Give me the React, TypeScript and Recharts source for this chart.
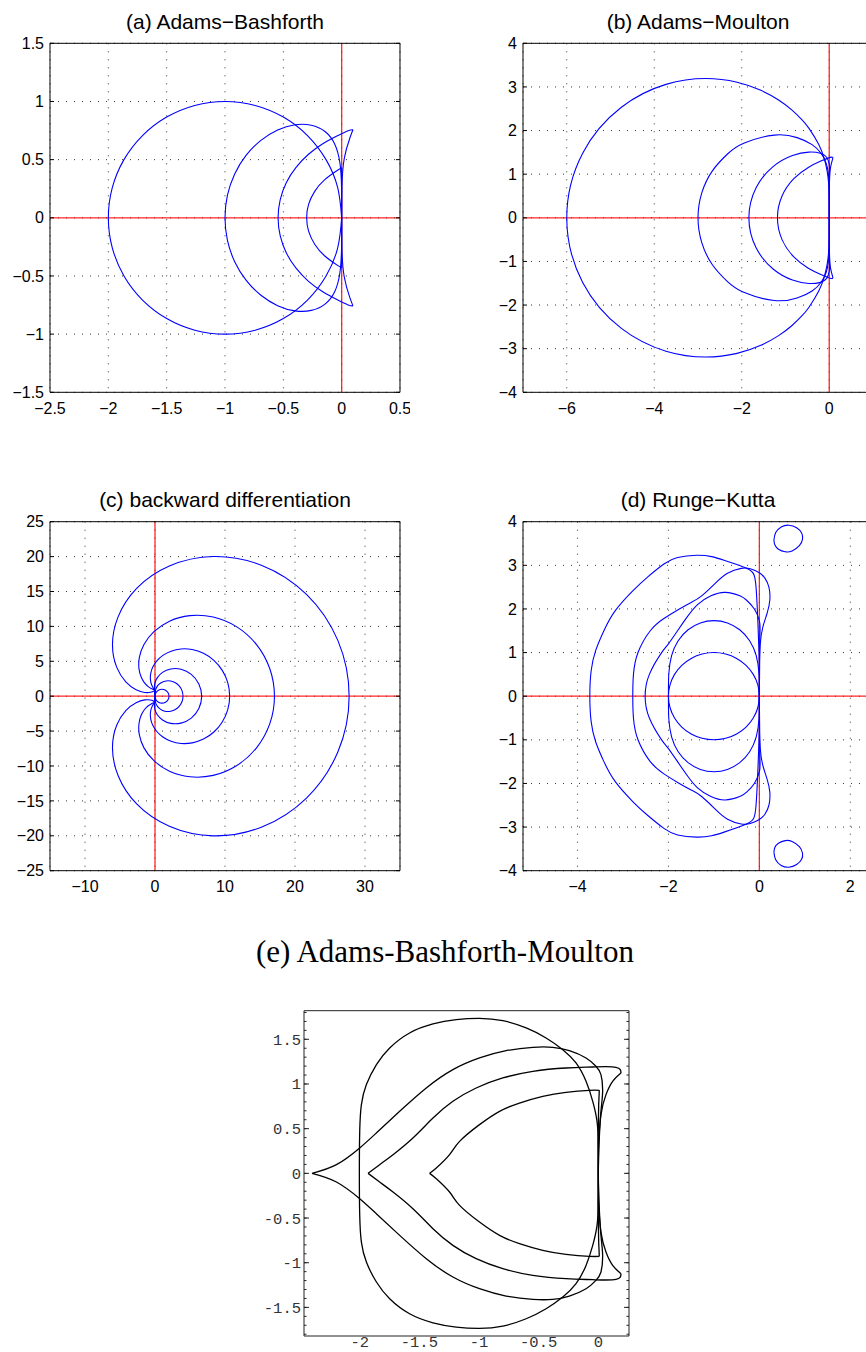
import { LineChart, Line, XAxis, YAxis, CartesianGrid, ReferenceLine } from 'recharts'

type Pt = [number, number]
type CurveKind = 'natural' | 'linear'

interface Curve {
  points: Pt[]
  kind?: CurveKind
}

// ---------- (a) Adams-Bashforth ----------
const abXTicks = [-2.5, -2, -1.5, -1, -0.5, 0, 0.5]
const abYTicks = [-1.5, -1, -0.5, 0, 0.5, 1, 1.5]

const abOrder1: Pt[] = [
  [0, 0], [-0.034, 0.259], [-0.134, 0.5], [-0.293, 0.707], [-0.5, 0.866], [-0.741, 0.966], [-1, 1],
  [-1.259, 0.966], [-1.5, 0.866], [-1.707, 0.707], [-1.866, 0.5], [-1.966, 0.259], [-2, 0],
  [-1.966, -0.259], [-1.866, -0.5], [-1.707, -0.707], [-1.5, -0.866], [-1.259, -0.966], [-1, -1],
  [-0.741, -0.966], [-0.5, -0.866], [-0.293, -0.707], [-0.134, -0.5], [-0.034, -0.259], [0, 0],
]
const abOrder2: Pt[] = [
  [0, 0], [-0.001, 0.255], [-0.015, 0.472], [-0.06, 0.635], [-0.143, 0.742], [-0.26, 0.796], [-0.4, 0.8],
  [-0.549, 0.755], [-0.692, 0.666], [-0.818, 0.538], [-0.917, 0.377], [-0.979, 0.194], [-1, 0],
  [-0.979, -0.194], [-0.917, -0.377], [-0.818, -0.538], [-0.692, -0.666], [-0.549, -0.755], [-0.4, -0.8],
  [-0.26, -0.796], [-0.143, -0.742], [-0.06, -0.635], [-0.015, -0.472], [-0.001, -0.255], [0, 0],
]
const abOrder3Outer: Pt[] = [
  [0.097, 0.757], [0.055, 0.749], [-0.041, 0.703], [-0.162, 0.636], [-0.284, 0.546], [-0.391, 0.433],
  [-0.475, 0.301], [-0.527, 0.154], [-0.545, 0], [-0.527, -0.154], [-0.475, -0.301], [-0.391, -0.433],
  [-0.284, -0.546], [-0.162, -0.636], [-0.041, -0.703], [0.055, -0.749], [0.097, -0.757],
]
const abOrder3Inner: Pt[] = [
  [0.097, 0.757], [0.071, 0.688], [0.022, 0.508], [0.002, 0.261], [0, 0],
  [0.002, -0.261], [0.022, -0.508], [0.071, -0.688], [0.097, -0.757],
]
const abOrder4Arc: Pt[] = [
  [0, 0.43], [-0.032, 0.411], [-0.147, 0.326], [-0.231, 0.227], [-0.283, 0.117], [-0.3, 0],
  [-0.283, -0.117], [-0.231, -0.227], [-0.147, -0.326], [-0.032, -0.411], [0, -0.43],
]
const abOrder4Axis: Pt[] = [[0, 0.43], [0, -0.43]]

// ---------- (b) Adams-Moulton ----------
const amXTicks = [-6, -4, -2, 0]
const amYTicks = [-4, -3, -2, -1, 0, 1, 2, 3, 4]

const amOrder3: Pt[] = [
  [0, 0], [0, 0.262], [-0.003, 0.524], [-0.015, 0.79], [-0.047, 1.064], [-0.114, 1.356], [-0.24, 1.68],
  [-0.463, 2.05], [-0.632, 2.256], [-0.857, 2.474], [-1.158, 2.701], [-1.563, 2.923], [-2.107, 3.108],
  [-2.826, 3.192], [-3.732, 3.058], [-4.751, 2.535], [-5.636, 1.482], [-6, 0],
  [-5.636, -1.482], [-4.751, -2.535], [-3.732, -3.058], [-2.826, -3.192], [-2.107, -3.108],
  [-1.563, -2.923], [-1.158, -2.701], [-0.857, -2.474], [-0.632, -2.256], [-0.463, -2.05],
  [-0.24, -1.68], [-0.114, -1.356], [-0.047, -1.064], [-0.015, -0.79], [-0.003, -0.524], [0, -0.262], [0, 0],
]
const amOrder4: Pt[] = [
  [0, 0], [0, 0.523], [-0.005, 0.78], [-0.022, 1.026], [-0.073, 1.259], [-0.185, 1.477], [-0.392, 1.677],
  [-0.735, 1.838], [-1.256, 1.896], [-1.955, 1.708], [-2.332, 1.457], [-2.671, 1.077], [-2.912, 0.576], [-3, 0],
  [-2.912, -0.576], [-2.671, -1.077], [-2.332, -1.457], [-1.955, -1.708], [-1.256, -1.896], [-0.735, -1.838],
  [-0.392, -1.677], [-0.185, -1.477], [-0.073, -1.259], [-0.022, -1.026], [-0.005, -0.78], [0, -0.523], [0, 0],
]
const amOrder5: Pt[] = [
  [0, 0], [0, 0.52], [0.006, 1.026], [-0.003, 1.235], [-0.059, 1.388], [-0.205, 1.48], [-0.466, 1.506],
  [-0.84, 1.427], [-1.284, 1.173], [-1.675, 0.682], [-1.837, 0], [-1.675, -0.682], [-1.284, -1.173],
  [-0.84, -1.427], [-0.466, -1.506], [-0.205, -1.48], [-0.059, -1.388], [-0.003, -1.235], [0.006, -1.026],
  [0, -0.52], [0, 0],
]
const amOrder6Inner: Pt[] = [
  [0.086, 1.385], [0.054, 1.264], [0.016, 1.044], [0, 0.52], [0, 0],
  [0, -0.52], [0.016, -1.044], [0.054, -1.264], [0.086, -1.385],
]
const amOrder6Outer: Pt[] = [
  [0.086, 1.385], [0.021, 1.385], [-0.179, 1.305], [-0.479, 1.155], [-0.81, 0.896], [-1.079, 0.5], [-1.184, 0],
  [-1.079, -0.5], [-0.81, -0.896], [-0.479, -1.155], [-0.179, -1.305], [0.021, -1.385], [0.086, -1.385],
]

// ---------- (c) backward differentiation ----------
const bdfXTicks = [-10, 0, 10, 20, 30]
const bdfYTicks = [-25, -20, -15, -10, -5, 0, 5, 10, 15, 20, 25]

const bdf1: Pt[] = [
  [0, 0], [0.134, 0.5], [0.5, 0.866], [1, 1], [1.5, 0.866], [1.866, 0.5], [2, 0],
  [1.866, -0.5], [1.5, -0.866], [1, -1], [0.5, -0.866], [0.134, -0.5], [0, 0],
]
const bdf2: Pt[] = [
  [0, 0], [0.018, 0.567], [0.086, 0.914], [0.25, 1.299], [0.549, 1.682], [1, 2], [1.585, 2.182], [2.25, 2.165],
  [2.914, 1.914], [3.482, 1.433], [3.865, 0.768], [4, 0], [3.865, -0.768], [3.482, -1.433], [2.914, -1.914],
  [2.25, -2.165], [1.585, -2.182], [1, -2], [0.549, -1.682], [0.25, -1.299], [0.086, -0.914], [0.018, -0.567], [0, 0],
]
const bdf3: Pt[] = [
  [0, 0], [-0.015, 0.534], [-0.052, 0.857], [-0.083, 1.299], [-0.006, 1.912], [0.333, 2.667], [1.075, 3.412],
  [2.25, 3.897], [3.719, 3.857], [5.182, 3.133], [6.266, 1.762], [6.667, 0], [6.266, -1.762], [5.182, -3.133],
  [3.719, -3.857], [2.25, -3.897], [1.075, -3.412], [0.333, -2.667], [-0.006, -1.912], [-0.083, -1.299],
  [-0.052, -0.857], [-0.015, -0.534], [0, 0],
]
const bdf4: Pt[] = [
  [0, 0], [-0.02, 0.52], [-0.052, 0.771], [-0.208, 1.083], [-0.482, 1.637], [-0.611, 2.083], [-0.667, 2.667],
  [-0.586, 3.385], [-0.297, 4.204], [0.261, 5.057], [1.125, 5.846], [2.293, 6.452], [3.719, 6.771], [5.305, 6.687],
  [6.923, 6.148], [8.41, 5.134], [9.613, 3.695], [10.395, 1.933], [10.667, 0], [10.395, -1.933], [9.613, -3.695],
  [8.41, -5.134], [6.923, -6.148], [5.305, -6.687], [3.719, -6.771], [2.293, -6.452], [1.125, -5.846],
  [0.261, -5.057], [-0.297, -4.204], [-0.586, -3.385], [-0.667, -2.667], [-0.611, -2.083], [-0.482, -1.637],
  [-0.208, -1.083], [-0.052, -0.771], [-0.02, -0.52], [0, 0],
]
const bdf5: Pt[] = [
  [0, 0], [-0.02, 0.52], [-0.108, 0.91], [-0.271, 0.982], [-0.552, 1.107], [-0.964, 1.367], [-1.467, 1.867],
  [-1.964, 2.705], [-2.291, 3.942], [-2.233, 5.553], [-1.575, 7.405], [-0.153, 9.241], [2.07, 10.751],
  [4.986, 11.546], [8.316, 11.347], [11.637, 9.964], [14.477, 7.427], [16.391, 3.969], [17.067, 0],
  [16.391, -3.969], [14.477, -7.427], [11.637, -9.964], [8.316, -11.347], [4.986, -11.546], [2.07, -10.751],
  [-0.153, -9.241], [-1.575, -7.405], [-2.233, -5.553], [-2.291, -3.942], [-1.964, -2.705], [-1.467, -1.867],
  [-0.964, -1.367], [-0.552, -1.107], [-0.271, -0.982], [-0.108, -0.91], [-0.02, -0.52], [0, 0],
]
const bdf6: Pt[] = [
  [0, 0], [0.02, 0.775], [-0.168, 0.723], [-0.628, 0.556], [-1.467, 0.533], [-2.701, 0.926], [-4.172, 2.061],
  [-5.49, 4.204], [-6.075, 7.405], [-5.275, 11.363], [-2.621, 15.442], [2.046, 18.645], [8.316, 20.011],
  [15.271, 18.735], [21.641, 14.591], [26.12, 7.999], [27.733, 0], [26.12, -7.999], [21.641, -14.591],
  [15.271, -18.735], [8.316, -20.011], [2.046, -18.645], [-2.621, -15.442], [-5.275, -11.363], [-6.075, -7.405],
  [-5.49, -4.204], [-4.172, -2.061], [-2.701, -0.926], [-1.467, -0.533], [-0.628, -0.556], [-0.168, -0.723],
  [0.02, -0.775], [0, 0],
]

// ---------- (d) Runge-Kutta ----------
const rkXTicks = [-4, -2, 0, 2]
const rkYTicks = [-4, -3, -2, -1, 0, 1, 2, 3, 4]

const rkOrder1: Pt[] = [
  [0, 0], [-0.034, 0.259], [-0.134, 0.5], [-0.293, 0.707], [-0.5, 0.866], [-0.741, 0.966], [-1, 1],
  [-1.259, 0.966], [-1.5, 0.866], [-1.707, 0.707], [-1.866, 0.5], [-1.966, 0.259], [-2, 0],
  [-1.966, -0.259], [-1.866, -0.5], [-1.707, -0.707], [-1.5, -0.866], [-1.259, -0.966], [-1, -1],
  [-0.741, -0.966], [-0.5, -0.866], [-0.293, -0.707], [-0.134, -0.5], [-0.034, -0.259], [0, 0],
]
const rkOrder2: Pt[] = [
  [0, 0], [-0.007, 0.504], [-0.069, 0.931], [-0.214, 1.272], [-0.432, 1.524], [-0.702, 1.68], [-1, 1.732],
  [-1.298, 1.68], [-1.568, 1.524], [-1.786, 1.272], [-1.931, 0.931], [-1.993, 0.504], [-2, 0],
  [-1.993, -0.504], [-1.931, -0.931], [-1.786, -1.272], [-1.568, -1.524], [-1.298, -1.68], [-1, -1.732],
  [-0.702, -1.68], [-0.432, -1.524], [-0.214, -1.272], [-0.069, -0.931], [-0.007, -0.504], [0, 0],
]
const rkOrder3: Pt[] = [
  [0, 0], [0.003, 0.9], [0.015, 1.5], [0, 1.732], [-0.11, 2.0], [-0.28, 2.2], [-0.43, 2.3], [-0.75, 2.38],
  [-1.065, 2.3], [-1.36, 2.1], [-1.6, 1.8], [-1.8, 1.5], [-2.0, 1.2], [-2.15, 1.0], [-2.42, 0.5], [-2.513, 0],
  [-2.42, -0.5], [-2.15, -1.0], [-2.0, -1.2], [-1.8, -1.5], [-1.6, -1.8], [-1.36, -2.1], [-1.065, -2.3],
  [-0.75, -2.38], [-0.43, -2.3], [-0.28, -2.2], [-0.11, -2.0], [0, -1.732], [0.015, -1.5], [0.003, -0.9], [0, 0],
]
const rkOrder4: Pt[] = [
  [0, 0], [0.005, 0.6], [0.02, 1.2], [0.08, 1.6], [0.17, 1.9], [0.23, 2.2], [0.21, 2.5], [0.125, 2.7],
  [0, 2.828], [-0.2, 2.92], [-0.4, 2.93], [-0.7, 2.82], [-0.96, 2.6], [-1.27, 2.3], [-1.5, 2.15],
  [-1.76, 2.0], [-2.1, 1.78], [-2.4, 1.5], [-2.67, 1.0], [-2.77, 0.5], [-2.785, 0],
  [-2.77, -0.5], [-2.67, -1.0], [-2.4, -1.5], [-2.1, -1.78], [-1.76, -2.0], [-1.5, -2.15], [-1.27, -2.3],
  [-0.96, -2.6], [-0.7, -2.82], [-0.4, -2.93], [-0.2, -2.92], [0, -2.828], [0.125, -2.7], [0.21, -2.5],
  [0.23, -2.2], [0.17, -1.9], [0.08, -1.6], [0.02, -1.2], [0.005, -0.6], [0, 0],
]
const rkOrder5: Pt[] = [
  [0, 0], [0, 0.6], [-0.015, 1.21], [-0.044, 1.97], [-0.073, 2.5], [-0.13, 2.81], [-0.35, 2.96],
  [-0.76, 3.11], [-1.05, 3.2], [-1.38, 3.23], [-1.8, 3.18], [-2.1, 3.03], [-2.46, 2.73], [-2.78, 2.42],
  [-3.17, 1.96], [-3.42, 1.5], [-3.6, 1.05], [-3.7, 0.59], [-3.73, 0],
  [-3.7, -0.59], [-3.6, -1.05], [-3.42, -1.5], [-3.17, -1.96], [-2.78, -2.42], [-2.46, -2.73], [-2.1, -3.03],
  [-1.8, -3.18], [-1.38, -3.23], [-1.05, -3.2], [-0.76, -3.11], [-0.35, -2.96], [-0.13, -2.81], [-0.073, -2.5],
  [-0.044, -1.97], [-0.015, -1.21], [0, -0.6], [0, 0],
]
const rkIslandUpper: Pt[] = [
  [0.32, 3.58], [0.36, 3.75], [0.48, 3.88], [0.65, 3.92], [0.82, 3.86], [0.93, 3.74], [0.95, 3.6],
  [0.88, 3.45], [0.72, 3.33], [0.57, 3.31], [0.42, 3.37], [0.34, 3.47], [0.32, 3.58],
]
const rkIslandLower: Pt[] = [
  [0.32, -3.58], [0.34, -3.47], [0.42, -3.37], [0.57, -3.31], [0.72, -3.33], [0.88, -3.45], [0.95, -3.6],
  [0.93, -3.74], [0.82, -3.86], [0.65, -3.92], [0.48, -3.88], [0.36, -3.75], [0.32, -3.58],
]

// ---------- (e) Adams-Bashforth-Moulton ----------
const abmXTicks = [-2, -1.5, -1, -0.5, 0]
const abmYTicks = [-1.5, -1, -0.5, 0, 0.5, 1, 1.5]
const abmXMinor = [
  -2.4, -2.3, -2.2, -2.1, -2, -1.9, -1.8, -1.7, -1.6, -1.5, -1.4, -1.3, -1.2, -1.1, -1, -0.9, -0.8, -0.7,
  -0.6, -0.5, -0.4, -0.3, -0.2, -0.1, 0, 0.1, 0.2,
]
const abmYMinor = [
  -1.8, -1.7, -1.6, -1.5, -1.4, -1.3, -1.2, -1.1, -1, -0.9, -0.8, -0.7, -0.6, -0.5, -0.4, -0.3, -0.2, -0.1, 0,
  0.1, 0.2, 0.3, 0.4, 0.5, 0.6, 0.7, 0.8, 0.9, 1, 1.1, 1.2, 1.3, 1.4, 1.5, 1.6, 1.7, 1.8,
]

const abm1: Pt[] = [
  [0, 0], [0, 0.32], [-0.011, 0.582], [-0.047, 0.806], [-0.103, 1.03], [-0.187, 1.235], [-0.298, 1.384],
  [-0.438, 1.515], [-0.605, 1.627], [-0.801, 1.709], [-0.996, 1.735], [-1.191, 1.72], [-1.386, 1.672],
  [-1.582, 1.571], [-1.749, 1.403], [-1.86, 1.216], [-1.944, 0.993], [-1.986, 0.769], [-2.0, 0.47], [-2.003, 0],
  [-2.0, -0.47], [-1.986, -0.769], [-1.944, -0.993], [-1.86, -1.216], [-1.749, -1.403], [-1.582, -1.571],
  [-1.386, -1.672], [-1.191, -1.72], [-0.996, -1.735], [-0.801, -1.709], [-0.605, -1.627], [-0.438, -1.515],
  [-0.298, -1.384], [-0.187, -1.235], [-0.103, -1.03], [-0.047, -0.806], [-0.011, -0.582], [0, -0.32], [0, 0],
]
const abm2: Pt[] = [
  [-2.4, 0], [-2.195, 0.097], [-2.0, 0.284], [-1.861, 0.451], [-1.665, 0.694], [-1.442, 0.955], [-1.219, 1.16],
  [-0.996, 1.291], [-0.773, 1.373], [-0.549, 1.41], [-0.382, 1.41], [-0.243, 1.373], [-0.103, 1.291],
  [-0.02, 1.198], [0.022, 1.104], [0.036, 0.918], [0.022, 0.694], [0.008, 0.396], [0, 0],
  [0.008, -0.396], [0.022, -0.694], [0.036, -0.918], [0.022, -1.104], [-0.02, -1.198], [-0.103, -1.291],
  [-0.243, -1.373], [-0.382, -1.41], [-0.549, -1.41], [-0.773, -1.373], [-0.996, -1.291], [-1.219, -1.16],
  [-1.442, -0.955], [-1.665, -0.694], [-1.861, -0.451], [-2.0, -0.284], [-2.195, -0.097], [-2.4, 0],
]
const abm3Upper: Pt[] = [
  [-1.93, 0], [-1.833, 0.097], [-1.721, 0.209], [-1.554, 0.396], [-1.386, 0.619], [-1.219, 0.806],
  [-1.024, 0.955], [-0.801, 1.067], [-0.549, 1.142], [-0.271, 1.179], [-0.047, 1.19], [0.148, 1.187], [0.19, 1.123],
]
const abm3Lower: Pt[] = [
  [-1.93, 0], [-1.833, -0.097], [-1.721, -0.209], [-1.554, -0.396], [-1.386, -0.619], [-1.219, -0.806],
  [-1.024, -0.955], [-0.801, -1.067], [-0.549, -1.142], [-0.271, -1.179], [-0.047, -1.19], [0.148, -1.187], [0.19, -1.123],
]
const abm3Inner: Pt[] = [
  [0.19, 1.123], [0.12, 1.03], [0.064, 0.881], [0.022, 0.657], [0.003, 0.32], [0, 0],
  [0.003, -0.32], [0.022, -0.657], [0.064, -0.881], [0.12, -1.03], [0.19, -1.123],
]
const abm4Upper: Pt[] = [
  [-1.414, 0], [-1.358, 0.06], [-1.247, 0.209], [-1.163, 0.358], [-0.996, 0.545], [-0.828, 0.694],
  [-0.661, 0.787], [-0.466, 0.862], [-0.271, 0.907], [-0.075, 0.929], [0.008, 0.929],
]
const abm4Lower: Pt[] = [
  [-1.414, 0], [-1.358, -0.06], [-1.247, -0.209], [-1.163, -0.358], [-0.996, -0.545], [-0.828, -0.694],
  [-0.661, -0.787], [-0.466, -0.862], [-0.271, -0.907], [-0.075, -0.929], [0.008, -0.929],
]
const abm4Axis: Pt[] = [
  [0.008, 0.929], [0.003, 0.769], [-0.003, 0.32], [0, 0], [-0.003, -0.32], [0.003, -0.769], [0.008, -0.929],
]

const panelTitles = [
  '(a) Adams\u2212Bashforth',
  '(b) Adams\u2212Moulton',
  '(c) backward differentiation',
  '(d) Runge\u2212Kutta',
  '(e) Adams-Bashforth-Moulton',
]

const SANS = '"Liberation Sans", Arial, Helvetica, sans-serif'
const MONO = '"Liberation Mono", "Courier New", monospace'
const SERIF = '"Liberation Serif", "Times New Roman", serif'
const PLOT_H = 349
// mirrored axes that only carry tick marks; a near-zero size keeps them from stacking
const THIN = 0.01

function rows(points: Pt[]) {
  return points.map(([x, y]) => ({ x, y }))
}

function withMinus(value: number): string {
  return String(value).replace('-', '\u2212')
}

// tick marks only: an empty label keeps the tick lines drawn
function NoLabel() {
  return <g />
}

interface MatlabPanelProps {
  left: number
  top: number
  plotTop: number
  xDomain: [number, number]
  yDomain: [number, number]
  xTicks: number[]
  yTicks: number[]
  curves: Curve[]
}

function MatlabPanel(props: MatlabPanelProps) {
  const { xDomain, yDomain, xTicks, yTicks } = props
  const tickStyle = { fill: '#000', fontSize: 16, fontFamily: SANS }
  const marks = {
    type: 'number' as const,
    allowDataOverflow: true,
    interval: 0 as const,
    tick: NoLabel,
    tickSize: 4,
    tickLine: { stroke: '#000' },
  }
  return (
    <div style={{ position: 'absolute', left: props.left, top: props.top }}>
      <LineChart
        width={410}
        height={props.plotTop + PLOT_H + 30}
        margin={{ top: props.plotTop, right: 10, bottom: 0, left: 0 }}
      >
        <CartesianGrid stroke="#333" strokeDasharray="1 7" />
        <ReferenceLine x={0} stroke="#ff0000" strokeWidth={1.3} strokeOpacity={0.85} />
        <ReferenceLine y={0} stroke="#ff0000" strokeWidth={1.3} strokeOpacity={0.85} />
        {props.curves.map((curve, i) => (
          <Line
            key={i}
            data={rows(curve.points)}
            dataKey="y"
            type={curve.kind ?? 'natural'}
            stroke="#0000ff"
            strokeWidth={1.1}
            dot={false}
            activeDot={false}
            isAnimationActive={false}
          />
        ))}
        <XAxis
          type="number"
          dataKey="x"
          domain={xDomain}
          ticks={xTicks}
          allowDataOverflow
          interval={0}
          height={30}
          tickLine={false}
          tickSize={0}
          tickMargin={10}
          axisLine={{ stroke: '#000' }}
          tick={tickStyle}
          tickFormatter={withMinus}
        />
        <XAxis {...marks} xAxisId="frameTop" orientation="top" mirror height={THIN}
          domain={xDomain} ticks={xTicks} axisLine={{ stroke: '#000' }} />
        <XAxis {...marks} xAxisId="innerBottom" orientation="bottom" mirror height={THIN}
          domain={xDomain} ticks={xTicks} axisLine={false} />
        <YAxis
          type="number"
          dataKey="y"
          domain={yDomain}
          ticks={yTicks}
          allowDataOverflow
          interval={0}
          width={50}
          tickLine={false}
          tickSize={0}
          tickMargin={6}
          axisLine={{ stroke: '#000' }}
          tick={tickStyle}
          tickFormatter={withMinus}
        />
        <YAxis {...marks} yAxisId="innerLeft" orientation="left" mirror width={THIN}
          domain={yDomain} ticks={yTicks} axisLine={false} />
        <YAxis {...marks} yAxisId="frameRight" orientation="right" mirror width={THIN}
          domain={yDomain} ticks={yTicks} axisLine={{ stroke: '#000' }} />
      </LineChart>
    </div>
  )
}

const abmCurves: Curve[] = [
  { points: abm1 },
  { points: abm2 },
  { points: abm3Upper },
  { points: abm3Lower },
  { points: abm3Inner },
  { points: abm4Upper },
  { points: abm4Lower },
  { points: abm4Axis, kind: 'linear' },
]

function MathematicaPanel() {
  const xDomain: [number, number] = [-2.467, 0.257]
  const yDomain: [number, number] = [-1.82, 1.82]
  const tickStyle = { fill: '#333', fontSize: 15.5, fontFamily: MONO }
  const frame = { stroke: '#222' }
  const marks = { type: 'number' as const, allowDataOverflow: true, interval: 0 as const, tick: NoLabel, tickLine: frame }
  return (
    <div style={{ position: 'absolute', left: 254, top: 1000 }}>
      <LineChart width={385} height={352} margin={{ top: 10.7, right: 10, bottom: 0, left: 0 }}>
        {abmCurves.map((curve, i) => (
          <Line
            key={i}
            data={rows(curve.points)}
            dataKey="y"
            type={curve.kind ?? 'natural'}
            stroke="#000"
            strokeWidth={1.3}
            dot={false}
            activeDot={false}
            isAnimationActive={false}
          />
        ))}
        <XAxis
          type="number"
          dataKey="x"
          domain={xDomain}
          ticks={abmXTicks}
          allowDataOverflow
          interval={0}
          height={16}
          tickLine={false}
          tickSize={0}
          tickMargin={0}
          axisLine={frame}
          tick={tickStyle}
        />
        <XAxis {...marks} xAxisId="bMajor" orientation="bottom" mirror height={THIN} domain={xDomain}
          ticks={abmXTicks} tickSize={5} axisLine={false} />
        <XAxis {...marks} xAxisId="bMinor" orientation="bottom" mirror height={THIN} domain={xDomain}
          ticks={abmXMinor} tickSize={2.5} axisLine={false} />
        <XAxis {...marks} xAxisId="tMajor" orientation="top" mirror height={THIN} domain={xDomain}
          ticks={abmXTicks} tickSize={5} axisLine={frame} />
        <XAxis {...marks} xAxisId="tMinor" orientation="top" mirror height={THIN} domain={xDomain}
          ticks={abmXMinor} tickSize={2.5} axisLine={false} />
        <YAxis
          type="number"
          dataKey="y"
          domain={yDomain}
          ticks={abmYTicks}
          allowDataOverflow
          interval={0}
          width={50}
          tickLine={false}
          tickSize={0}
          tickMargin={3}
          axisLine={frame}
          tick={tickStyle}
        />
        <YAxis {...marks} yAxisId="lMajor" orientation="left" mirror width={THIN} domain={yDomain}
          ticks={abmYTicks} tickSize={5} axisLine={false} />
        <YAxis {...marks} yAxisId="lMinor" orientation="left" mirror width={THIN} domain={yDomain}
          ticks={abmYMinor} tickSize={2.5} axisLine={false} />
        <YAxis {...marks} yAxisId="rMajor" orientation="right" mirror width={THIN} domain={yDomain}
          ticks={abmYTicks} tickSize={5} axisLine={frame} />
        <YAxis {...marks} yAxisId="rMinor" orientation="right" mirror width={THIN} domain={yDomain}
          ticks={abmYMinor} tickSize={2.5} axisLine={false} />
      </LineChart>
    </div>
  )
}

export default function App() {
  return (
    <div
      style={{
        position: 'absolute',
        left: 0,
        top: 0,
        width: 866,
        height: 1352,
        overflow: 'hidden',
        background: '#fff',
      }}
    >
      <MatlabPanel
        left={0}
        top={0}
        plotTop={43.3}
        xDomain={[-2.5, 0.5]}
        yDomain={[-1.5, 1.5]}
        xTicks={abXTicks}
        yTicks={abYTicks}
        curves={[
          { points: abOrder1 },
          { points: abOrder2 },
          { points: abOrder3Outer },
          { points: abOrder3Inner },
          { points: abOrder4Arc },
          { points: abOrder4Axis, kind: 'linear' },
        ]}
      />
      <MatlabPanel
        left={473}
        top={0}
        plotTop={43.3}
        xDomain={[-7, 1]}
        yDomain={[-4, 4]}
        xTicks={amXTicks}
        yTicks={amYTicks}
        curves={[
          { points: amOrder3 },
          { points: amOrder4 },
          { points: amOrder5 },
          { points: amOrder6Inner },
          { points: amOrder6Outer },
        ]}
      />
      <MatlabPanel
        left={0}
        top={480}
        plotTop={41.7}
        xDomain={[-15, 35]}
        yDomain={[-25, 25]}
        xTicks={bdfXTicks}
        yTicks={bdfYTicks}
        curves={[
          { points: bdf1 },
          { points: bdf2 },
          { points: bdf3 },
          { points: bdf4 },
          { points: bdf5 },
          { points: bdf6 },
        ]}
      />
      <MatlabPanel
        left={473}
        top={480}
        plotTop={41.7}
        xDomain={[-5.2, 2.5]}
        yDomain={[-4, 4]}
        xTicks={rkXTicks}
        yTicks={rkYTicks}
        curves={[
          { points: rkOrder1 },
          { points: rkOrder2 },
          { points: rkOrder3 },
          { points: rkOrder4 },
          { points: rkOrder5 },
          { points: rkIslandUpper },
          { points: rkIslandLower },
        ]}
      />
      <MathematicaPanel />
      <svg
        width={866}
        height={1352}
        style={{ position: 'absolute', left: 0, top: 0, pointerEvents: 'none' }}
      >
        <text x={225} y={29.3} textAnchor="middle" fontFamily={SANS} fontSize={21} fill="#000">
          {panelTitles[0]}
        </text>
        <text x={698} y={29.3} textAnchor="middle" fontFamily={SANS} fontSize={21} fill="#000">
          {panelTitles[1]}
        </text>
        <text x={225} y={507.3} textAnchor="middle" fontFamily={SANS} fontSize={21} fill="#000">
          {panelTitles[2]}
        </text>
        <text x={698} y={507.3} textAnchor="middle" fontFamily={SANS} fontSize={21} fill="#000">
          {panelTitles[3]}
        </text>
        <text x={445} y={962} textAnchor="middle" fontFamily={SERIF} fontSize={31} fill="#000">
          {panelTitles[4]}
        </text>
      </svg>
    </div>
  )
}
